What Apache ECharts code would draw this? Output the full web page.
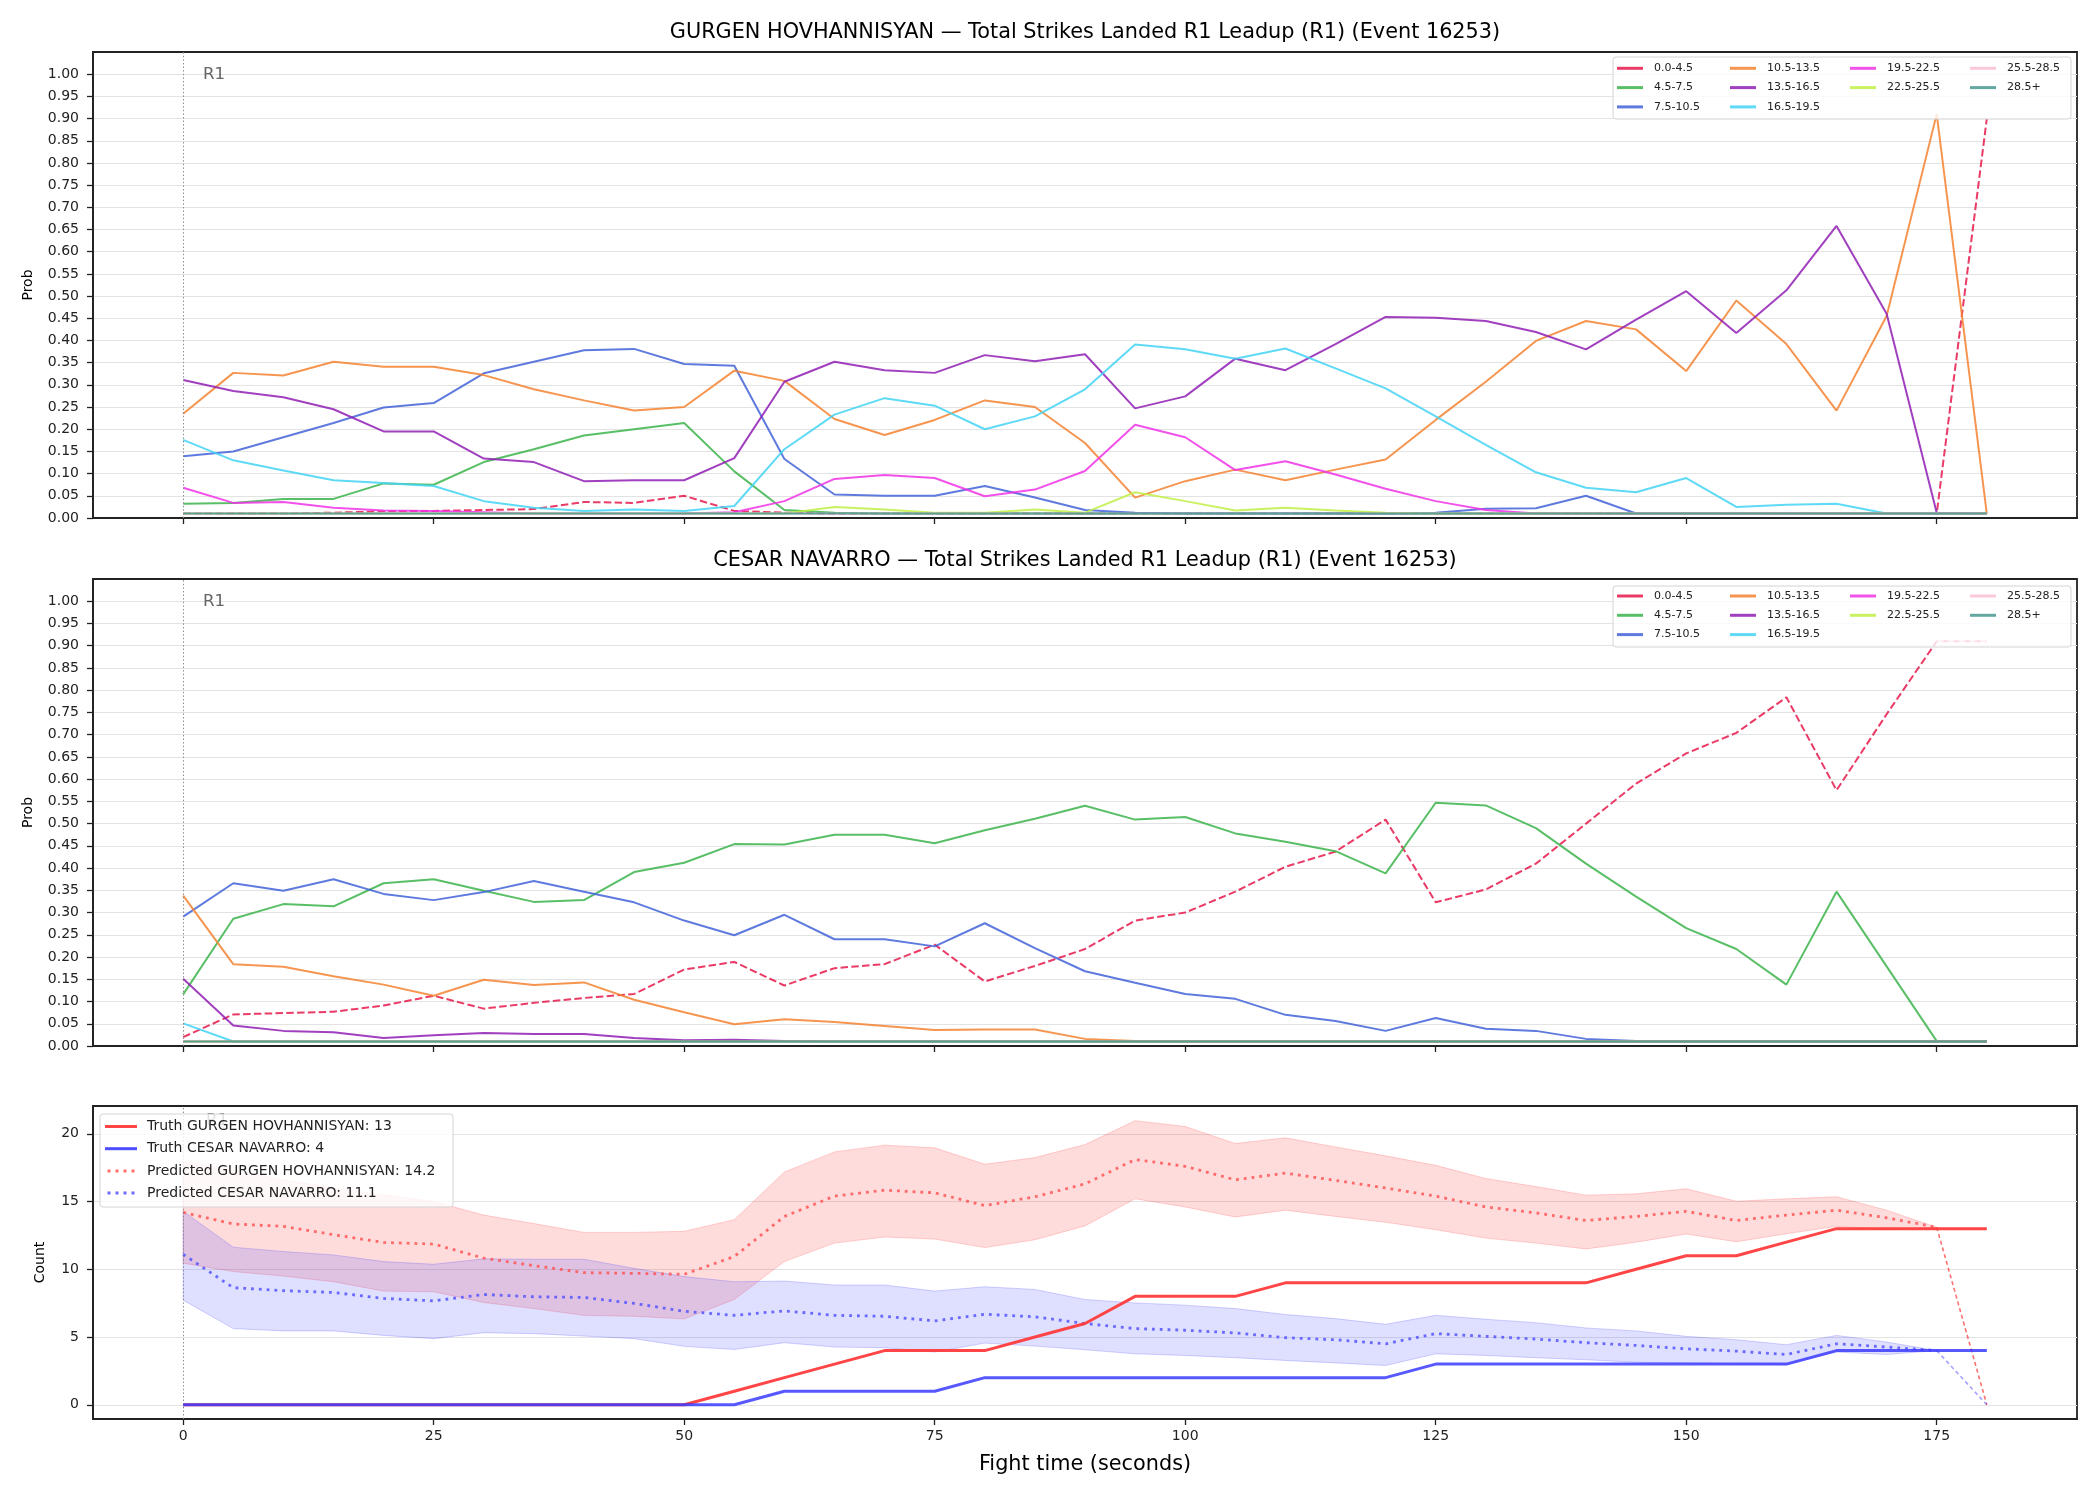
<!DOCTYPE html>
<html>
<head>
<meta charset="utf-8">
<script src="https://cdn.jsdelivr.net/npm/echarts@6/dist/echarts.min.js"></script>
<style>
  html, body { margin: 0; padding: 0; background: #fff; }
  #chart { width: 2100px; height: 1500px; }
</style>
</head>
<body>
<div id="chart"></div>
<script>
// fight time, seconds (one sample every 5 s)
const times = [0,5,10,15,20,25,30,35,40,45,50,55,60,65,70,75,80,85,90,95,100,105,110,115,120,125,130,135,140,145,150,155,160,165,170,175,180];
const xTicks = [0,25,50,75,100,125,150,175];
const probTicks = [0,0.05,0.1,0.15,0.2,0.25,0.3,0.35,0.4,0.45,0.5,0.55,0.6,0.65,0.7,0.75,0.8,0.85,0.9,0.95,1.0];
const countTicks = [0,5,10,15,20];

const binNames = ['0.0-4.5','4.5-7.5','7.5-10.5','10.5-13.5','13.5-16.5','16.5-19.5','19.5-22.5','22.5-25.5','25.5-28.5','28.5+'];
const binColors = ['#e6194b','#3cb44b','#4363d8','#f58231','#911eb4','#42d4f4','#f032e6','#bfef45','#fabed4','#469990'];

// GURGEN HOVHANNISYAN bin probabilities
const g_0_4  = [0.01,0.01,0.01,0.012,0.015,0.016,0.018,0.02,0.036,0.034,0.05,0.016,0.012,0.01,0.01,0.01,0.01,0.01,0.01,0.01,0.01,0.01,0.01,0.01,0.01,0.01,0.01,0.01,0.01,0.01,0.01,0.01,0.01,0.01,0.01,0.01,0.9];
const g_4_7  = [0.032,0.034,0.043,0.043,0.078,0.075,0.126,0.155,0.186,0.2,0.214,0.105,0.018,0.012,0.01,0.01,0.01,0.01,0.01,0.01,0.01,0.01,0.01,0.01,0.01,0.01,0.01,0.01,0.01,0.01,0.01,0.01,0.01,0.01,0.01,0.01,0.01];
const g_7_10 = [0.139,0.15,0.182,0.214,0.249,0.259,0.326,0.352,0.378,0.381,0.347,0.343,0.133,0.053,0.05,0.05,0.072,0.046,0.018,0.012,0.01,0.01,0.01,0.01,0.01,0.012,0.021,0.022,0.05,0.01,0.01,0.01,0.01,0.01,0.01,0.01,0.01];
const g_10_13 = [0.235,0.327,0.321,0.352,0.341,0.341,0.322,0.29,0.265,0.242,0.25,0.332,0.309,0.223,0.187,0.221,0.265,0.25,0.169,0.046,0.083,0.109,0.085,0.109,0.132,0.221,0.307,0.399,0.444,0.425,0.331,0.49,0.392,0.242,0.455,0.91,0.01];
const g_13_16 = [0.311,0.286,0.272,0.245,0.195,0.195,0.134,0.126,0.083,0.085,0.085,0.135,0.307,0.352,0.333,0.327,0.367,0.353,0.369,0.247,0.274,0.359,0.333,0.392,0.453,0.451,0.444,0.419,0.38,0.447,0.511,0.417,0.513,0.658,0.46,0.012,0.01];
const g_16_19 = [0.176,0.13,0.107,0.085,0.079,0.072,0.038,0.023,0.016,0.019,0.016,0.027,0.155,0.233,0.27,0.253,0.2,0.229,0.29,0.391,0.38,0.359,0.382,0.337,0.292,0.229,0.165,0.103,0.068,0.058,0.09,0.025,0.03,0.032,0.01,0.01,0.01];
const g_19_22 = [0.068,0.034,0.036,0.023,0.017,0.016,0.013,0.01,0.01,0.01,0.01,0.013,0.038,0.088,0.097,0.09,0.049,0.064,0.106,0.21,0.182,0.108,0.128,0.098,0.066,0.038,0.018,0.01,0.01,0.01,0.01,0.01,0.01,0.01,0.01,0.01,0.01];
const g_22_25 = [0.01,0.01,0.01,0.01,0.01,0.01,0.01,0.01,0.01,0.01,0.01,0.01,0.01,0.025,0.019,0.012,0.012,0.019,0.012,0.058,0.038,0.017,0.023,0.017,0.012,0.01,0.01,0.01,0.01,0.01,0.01,0.01,0.01,0.01,0.01,0.01,0.01];
const g_25_28 = [0.01,0.01,0.01,0.01,0.01,0.01,0.01,0.01,0.01,0.01,0.01,0.01,0.01,0.01,0.01,0.01,0.01,0.01,0.01,0.01,0.01,0.01,0.01,0.01,0.01,0.01,0.01,0.01,0.01,0.01,0.01,0.01,0.01,0.01,0.01,0.01,0.01];
const g_28p  = [0.01,0.01,0.01,0.01,0.01,0.01,0.01,0.01,0.01,0.01,0.01,0.01,0.01,0.01,0.01,0.01,0.01,0.01,0.01,0.01,0.01,0.01,0.01,0.01,0.01,0.01,0.01,0.01,0.01,0.01,0.01,0.01,0.01,0.01,0.01,0.01,0.01];

// CESAR NAVARRO bin probabilities
const c_0_4  = [0.02,0.071,0.074,0.077,0.091,0.113,0.084,0.097,0.108,0.117,0.172,0.189,0.136,0.175,0.184,0.228,0.145,0.18,0.218,0.282,0.3,0.347,0.403,0.437,0.509,0.323,0.352,0.41,0.5,0.59,0.658,0.704,0.784,0.575,0.746,0.91,0.91];
const c_4_7  = [0.116,0.286,0.319,0.314,0.366,0.375,0.349,0.324,0.328,0.391,0.412,0.454,0.453,0.475,0.475,0.456,0.485,0.511,0.54,0.509,0.515,0.478,0.459,0.438,0.388,0.547,0.541,0.49,0.41,0.336,0.265,0.218,0.138,0.347,0.179,0.011,0.01];
const c_7_10 = [0.291,0.366,0.349,0.375,0.342,0.328,0.346,0.371,0.347,0.323,0.282,0.249,0.295,0.24,0.24,0.224,0.276,0.22,0.168,0.142,0.117,0.106,0.07,0.056,0.034,0.063,0.039,0.034,0.016,0.011,0.01,0.01,0.01,0.01,0.01,0.01,0.01];
const c_10_13 = [0.338,0.184,0.178,0.157,0.138,0.113,0.149,0.137,0.143,0.104,0.076,0.049,0.06,0.054,0.045,0.036,0.037,0.037,0.016,0.011,0.01,0.01,0.01,0.01,0.01,0.01,0.01,0.01,0.01,0.01,0.01,0.01,0.01,0.01,0.01,0.01,0.01];
const c_13_16 = [0.151,0.046,0.034,0.031,0.018,0.024,0.029,0.027,0.027,0.018,0.013,0.014,0.011,0.01,0.01,0.01,0.01,0.01,0.01,0.01,0.01,0.01,0.01,0.01,0.01,0.01,0.01,0.01,0.01,0.01,0.01,0.01,0.01,0.01,0.01,0.01,0.01];
const c_16_19 = [0.051,0.01,0.01,0.01,0.01,0.01,0.01,0.01,0.01,0.01,0.01,0.01,0.01,0.01,0.01,0.01,0.01,0.01,0.01,0.01,0.01,0.01,0.01,0.01,0.01,0.01,0.01,0.01,0.01,0.01,0.01,0.01,0.01,0.01,0.01,0.01,0.01];
const c_19_22 = [0.01,0.01,0.01,0.01,0.01,0.01,0.01,0.01,0.01,0.01,0.01,0.01,0.01,0.01,0.01,0.01,0.01,0.01,0.01,0.01,0.01,0.01,0.01,0.01,0.01,0.01,0.01,0.01,0.01,0.01,0.01,0.01,0.01,0.01,0.01,0.01,0.01];
const c_22_25 = [0.01,0.01,0.01,0.01,0.01,0.01,0.01,0.01,0.01,0.01,0.01,0.01,0.01,0.01,0.01,0.01,0.01,0.01,0.01,0.01,0.01,0.01,0.01,0.01,0.01,0.01,0.01,0.01,0.01,0.01,0.01,0.01,0.01,0.01,0.01,0.01,0.01];
const c_25_28 = [null,null,null,null,null,null,null,null,null,null,null,null,null,null,null,null,null,null,null,null,null,null,null,null,null,null,null,null,null,null,null,null,null,null,null,0.91,0.91];
const c_28p  = [0.01,0.01,0.01,0.01,0.01,0.01,0.01,0.01,0.01,0.01,0.01,0.01,0.01,0.01,0.01,0.01,0.01,0.01,0.01,0.01,0.01,0.01,0.01,0.01,0.01,0.01,0.01,0.01,0.01,0.01,0.01,0.01,0.01,0.01,0.01,0.01,0.01];

const gurgenBins = [g_0_4, g_4_7, g_7_10, g_10_13, g_13_16, g_16_19, g_19_22, g_22_25, g_25_28, g_28p];
const cesarBins  = [c_0_4, c_4_7, c_7_10, c_10_13, c_13_16, c_16_19, c_19_22, c_22_25, c_25_28, c_28p];

// counts panel
const truthG = [0,0,0,0,0,0,0,0,0,0,0,1,2,3,4,4,4,5,6,8,8,8,9,9,9,9,9,9,9,10,11,11,12,13,13,13,13];
const truthC = [0,0,0,0,0,0,0,0,0,0,0,0,1,1,1,1,2,2,2,2,2,2,2,2,2,3,3,3,3,3,3,3,3,4,4,4,4];
const predG  = [14.2,13.34,13.17,12.55,11.98,11.86,10.82,10.27,9.75,9.7,9.63,10.94,13.9,15.4,15.84,15.64,14.7,15.35,16.3,18.1,17.6,16.6,17.1,16.56,16.0,15.4,14.6,14.16,13.6,13.9,14.28,13.6,14.0,14.36,13.8,13.1,null];
const predGHi = [18.0,17.3,16.6,16.0,15.5,15.0,14.0,13.37,12.72,12.72,12.8,13.66,17.18,18.66,19.16,18.96,17.75,18.24,19.2,20.97,20.54,19.28,19.7,19.03,18.37,17.67,16.7,16.1,15.47,15.57,15.94,15.02,15.2,15.35,14.36,13.1,null];
const predGLo = [10.45,9.83,9.5,9.08,8.39,8.34,7.55,7.1,6.6,6.53,6.34,7.77,10.57,11.93,12.38,12.23,11.6,12.18,13.2,15.2,14.6,13.86,14.36,13.9,13.47,12.92,12.3,11.93,11.5,12.0,12.6,12.03,12.62,13.17,12.92,13.1,null];
const predGEnd = [null,null,null,null,null,null,null,null,null,null,null,null,null,null,null,null,null,null,null,null,null,null,null,null,null,null,null,null,null,null,null,null,null,null,null,13.1,0];
const predC  = [11.1,8.64,8.42,8.29,7.85,7.67,8.14,7.97,7.92,7.48,6.9,6.6,6.93,6.6,6.53,6.19,6.68,6.49,6.0,5.62,5.5,5.3,4.95,4.8,4.5,5.25,5.05,4.85,4.58,4.38,4.13,3.96,3.71,4.5,4.26,4.0,null];
const predCHi = [14.28,11.63,11.31,11.06,10.57,10.37,10.77,10.74,10.74,10.07,9.46,9.08,9.13,8.84,8.84,8.39,8.71,8.51,7.77,7.52,7.35,7.1,6.66,6.36,5.94,6.6,6.31,6.06,5.67,5.45,5.05,4.8,4.43,5.12,4.63,4.0,null];
const predCLo = [7.72,5.62,5.45,5.45,5.12,4.88,5.32,5.25,5.07,4.88,4.31,4.08,4.58,4.26,4.21,3.89,4.55,4.33,4.06,3.76,3.64,3.47,3.27,3.09,2.9,3.76,3.64,3.47,3.32,3.14,3.07,3.02,2.95,3.89,3.71,4.0,null];
const predCEnd = [null,null,null,null,null,null,null,null,null,null,null,null,null,null,null,null,null,null,null,null,null,null,null,null,null,null,null,null,null,null,null,null,null,null,null,4.0,0];

const nameTruthG = 'Truth GURGEN HOVHANNISYAN: 13';
const nameTruthC = 'Truth CESAR NAVARRO: 4';
const namePredG = 'Predicted GURGEN HOVHANNISYAN: 14.2';
const namePredC = 'Predicted CESAR NAVARRO: 11.1';

const FONT = 'DejaVu Sans';
const chart = echarts.init(document.getElementById('chart'));

const pairs = arr => times.map((t, i) => [t, arr[i]]);

const gridBoxes = [
  { left: 93, top: 52, width: 1984, height: 466 },
  { left: 93, top: 579, width: 1984, height: 467 },
  { left: 93, top: 1106, width: 1984, height: 313 }
];

function xAxisFor(i) {
  return {
    type: 'value', gridIndex: i, min: -9, max: 189,
    axisLine: { show: true, onZero: false, lineStyle: { color: '#222', width: 1.8 } },
    axisTick: { show: true, customValues: xTicks, length: 6, lineStyle: { color: '#222', width: 1.3 } },
    axisLabel: { show: i === 2, customValues: xTicks, color: '#222', fontSize: 14, fontFamily: FONT, margin: 10 },
    splitLine: { show: false },
    name: i === 2 ? 'Fight time (seconds)' : '',
    nameLocation: 'middle', nameGap: 35,
    nameTextStyle: { fontSize: 20.8, color: '#000', fontFamily: FONT }
  };
}

function yProb(i) {
  return {
    type: 'value', gridIndex: i, min: 0, max: 1.05, interval: 0.05,
    axisLine: { show: true, onZero: false, lineStyle: { color: '#222', width: 1.8 } },
    axisTick: { show: true, customValues: probTicks, length: 6, lineStyle: { color: '#222', width: 1.3 } },
    axisLabel: { customValues: probTicks, color: '#222', fontSize: 14, fontFamily: FONT, margin: 14,
      formatter: v => v.toFixed(2) },
    splitLine: { show: true, lineStyle: { color: '#e3e3e3', width: 1 } },
    name: 'Prob', nameLocation: 'middle', nameGap: 58,
    nameTextStyle: { fontSize: 14, color: '#000', fontFamily: FONT }
  };
}

const series = [];
const r1Line = {
  silent: true, symbol: 'none', animation: false,
  label: { show: false },
  lineStyle: { color: '#888', type: [1.4, 2.2], width: 1 },
  data: [{ xAxis: 0 }]
};

function addBins(gi, bins) {
  bins.forEach((arr, k) => {
    const s = {
      type: 'line', name: binNames[k], xAxisIndex: gi, yAxisIndex: gi,
      data: pairs(arr), symbol: 'none', color: binColors[k],
      itemStyle: { color: binColors[k], opacity: 0.85 },
      lineStyle: { color: binColors[k], width: 2, opacity: 0.85 },
      z: 2
    };
    if (k === 0 || (gi === 1 && k === 8)) s.lineStyle.type = [7.5, 3.3];
    if (k === 0) s.markLine = r1Line;
    series.push(s);
  });
}
addBins(0, gurgenBins);
addBins(1, cesarBins);

// uncertainty bands: one filled polygon between the lower and upper bounds
function band(lo, hi, fill, edge) {
  series.push({
    type: 'custom', xAxisIndex: 2, yAxisIndex: 2, z: 1, silent: true,
    data: times.map((t, i) => [t, lo[i], hi[i]]),
    encode: { x: 0, y: [1, 2] },
    renderItem: (params, api) => {
      if (params.dataIndex !== 0) return null;
      const top = [], bot = [];
      times.forEach((t, i) => {
        if (hi[i] == null || lo[i] == null) return;
        top.push(api.coord([t, hi[i]]));
        bot.push(api.coord([t, lo[i]]));
      });
      return {
        type: 'polygon',
        shape: { points: top.concat(bot.reverse()) },
        style: { fill: fill, stroke: edge, lineWidth: 1 }
      };
    }
  });
}
band(predGLo, predGHi, 'rgba(255,40,40,0.16)', 'rgba(255,40,40,0.2)');
band(predCLo, predCHi, 'rgba(40,40,255,0.15)', 'rgba(40,40,255,0.2)');

series.push({
  type: 'line', name: namePredG, xAxisIndex: 2, yAxisIndex: 2, data: pairs(predG), symbol: 'none',
  color: '#ff5555', itemStyle: { color: '#ff5555', opacity: 0.85 },
  lineStyle: { color: '#ff5555', width: 2.8, type: [2.8, 5], opacity: 0.85 }, z: 3,
  markLine: r1Line
});
series.push({
  type: 'line', name: namePredC, xAxisIndex: 2, yAxisIndex: 2, data: pairs(predC), symbol: 'none',
  color: '#5555ff', itemStyle: { color: '#5555ff', opacity: 0.85 },
  lineStyle: { color: '#5555ff', width: 2.8, type: [2.8, 5], opacity: 0.85 }, z: 3
});
series.push({
  type: 'line', name: 'predG_end', xAxisIndex: 2, yAxisIndex: 2, data: pairs(predGEnd), symbol: 'none',
  lineStyle: { color: '#ff3333', width: 1.6, type: [4, 3], opacity: 0.7 }, z: 3
});
series.push({
  type: 'line', name: 'predC_end', xAxisIndex: 2, yAxisIndex: 2, data: pairs(predCEnd), symbol: 'none',
  lineStyle: { color: '#3333ff', width: 1.6, type: [4, 3], opacity: 0.45 }, z: 3
});
series.push({
  type: 'line', name: nameTruthG, xAxisIndex: 2, yAxisIndex: 2, data: pairs(truthG), symbol: 'none',
  color: '#ff3b3b', itemStyle: { color: '#ff3b3b', opacity: 0.95 },
  lineStyle: { color: '#ff3b3b', width: 3, opacity: 0.95 }, z: 4
});
series.push({
  type: 'line', name: nameTruthC, xAxisIndex: 2, yAxisIndex: 2, data: pairs(truthC), symbol: 'none',
  color: '#3b3bff', itemStyle: { color: '#3b3bff', opacity: 0.9 },
  lineStyle: { color: '#3b3bff', width: 3, opacity: 0.85 }, z: 5
});

// legends (matplotlib fills columns first, so one vertical legend per column)
const colGroups = [[0, 1, 2], [3, 4, 5], [6, 7], [8, 9]];
const colX = [1617, 1730, 1850, 1970];
const legends = [];
[61.3, 589].forEach(topY => {
  colGroups.forEach((grp, c) => {
    legends.push({
      orient: 'vertical', left: colX[c], top: topY, padding: 0, itemGap: 5.3,
      itemWidth: 26, itemHeight: 3, icon: 'rect', selectedMode: false, z: 8,
      textStyle: { fontSize: 11, lineHeight: 14, color: '#222', fontFamily: FONT, padding: [0, 0, 0, 6] },
      data: grp.map(k => binNames[k])
    });
  });
});
const dotIcon = 'path://M0,0h3v3h-3z M8,0h3v3h-3z M16,0h3v3h-3z M24,0h3v3h-3z';
legends.push({
  orient: 'vertical', left: 105, top: 1118, padding: 0, itemGap: 5.2,
  itemWidth: 32, itemHeight: 3, selectedMode: false, z: 8,
  textStyle: { fontSize: 14, lineHeight: 17, color: '#222', fontFamily: FONT, padding: [0, 0, 0, 5] },
  data: [
    { name: nameTruthG, icon: 'rect' },
    { name: nameTruthC, icon: 'rect' },
    { name: namePredG, icon: dotIcon },
    { name: namePredC, icon: dotIcon }
  ]
});

const legendFrame = (x, y, w, h) => ({
  type: 'rect', z: 7, shape: { x: x, y: y, width: w, height: h, r: 3 },
  style: { fill: 'rgba(255,255,255,0.8)', stroke: '#d4d4d4', lineWidth: 1 }
});
const r1Text = (x, y) => ({
  type: 'text', z: 6, x: x, y: y,
  style: { text: 'R1', fill: '#666', font: '16.7px "DejaVu Sans"', textVerticalAlign: 'top' }
});

chart.setOption({
  animation: false,
  backgroundColor: '#fff',
  title: [
    { text: 'GURGEN HOVHANNISYAN — Total Strikes Landed R1 Leadup (R1) (Event 16253)', left: 1085, top: 22, textAlign: 'center', padding: 0,
      textStyle: { fontSize: 20.8, fontWeight: 'normal', color: '#000', fontFamily: FONT } },
    { text: 'CESAR NAVARRO — Total Strikes Landed R1 Leadup (R1) (Event 16253)', left: 1085, top: 550, textAlign: 'center', padding: 0,
      textStyle: { fontSize: 20.8, fontWeight: 'normal', color: '#000', fontFamily: FONT } }
  ],
  grid: gridBoxes.map(g => Object.assign({ show: true, borderColor: '#222', borderWidth: 1.8, backgroundColor: 'transparent' }, g)),
  xAxis: [xAxisFor(0), xAxisFor(1), xAxisFor(2)],
  yAxis: [
    yProb(0), yProb(1),
    {
      type: 'value', gridIndex: 2, min: -1.05, max: 22.05,
      axisLine: { show: true, onZero: false, lineStyle: { color: '#222', width: 1.8 } },
      axisTick: { show: true, customValues: countTicks, length: 6, lineStyle: { color: '#222', width: 1.3 } },
      axisLabel: { customValues: countTicks, color: '#222', fontSize: 14, fontFamily: FONT, margin: 14 },
      splitLine: { show: true, lineStyle: { color: '#e3e3e3', width: 1 } },
      name: 'Count', nameLocation: 'middle', nameGap: 46,
      nameTextStyle: { fontSize: 14, color: '#000', fontFamily: FONT }
    }
  ],
  legend: legends,
  graphic: [
    r1Text(203, 66), r1Text(203, 593), r1Text(206, 1112),
    legendFrame(1613, 57, 458, 62),
    legendFrame(1613, 586, 458, 61),
    legendFrame(100, 1114, 353, 93)
  ],
  series: series
});
</script>
</body>
</html>
